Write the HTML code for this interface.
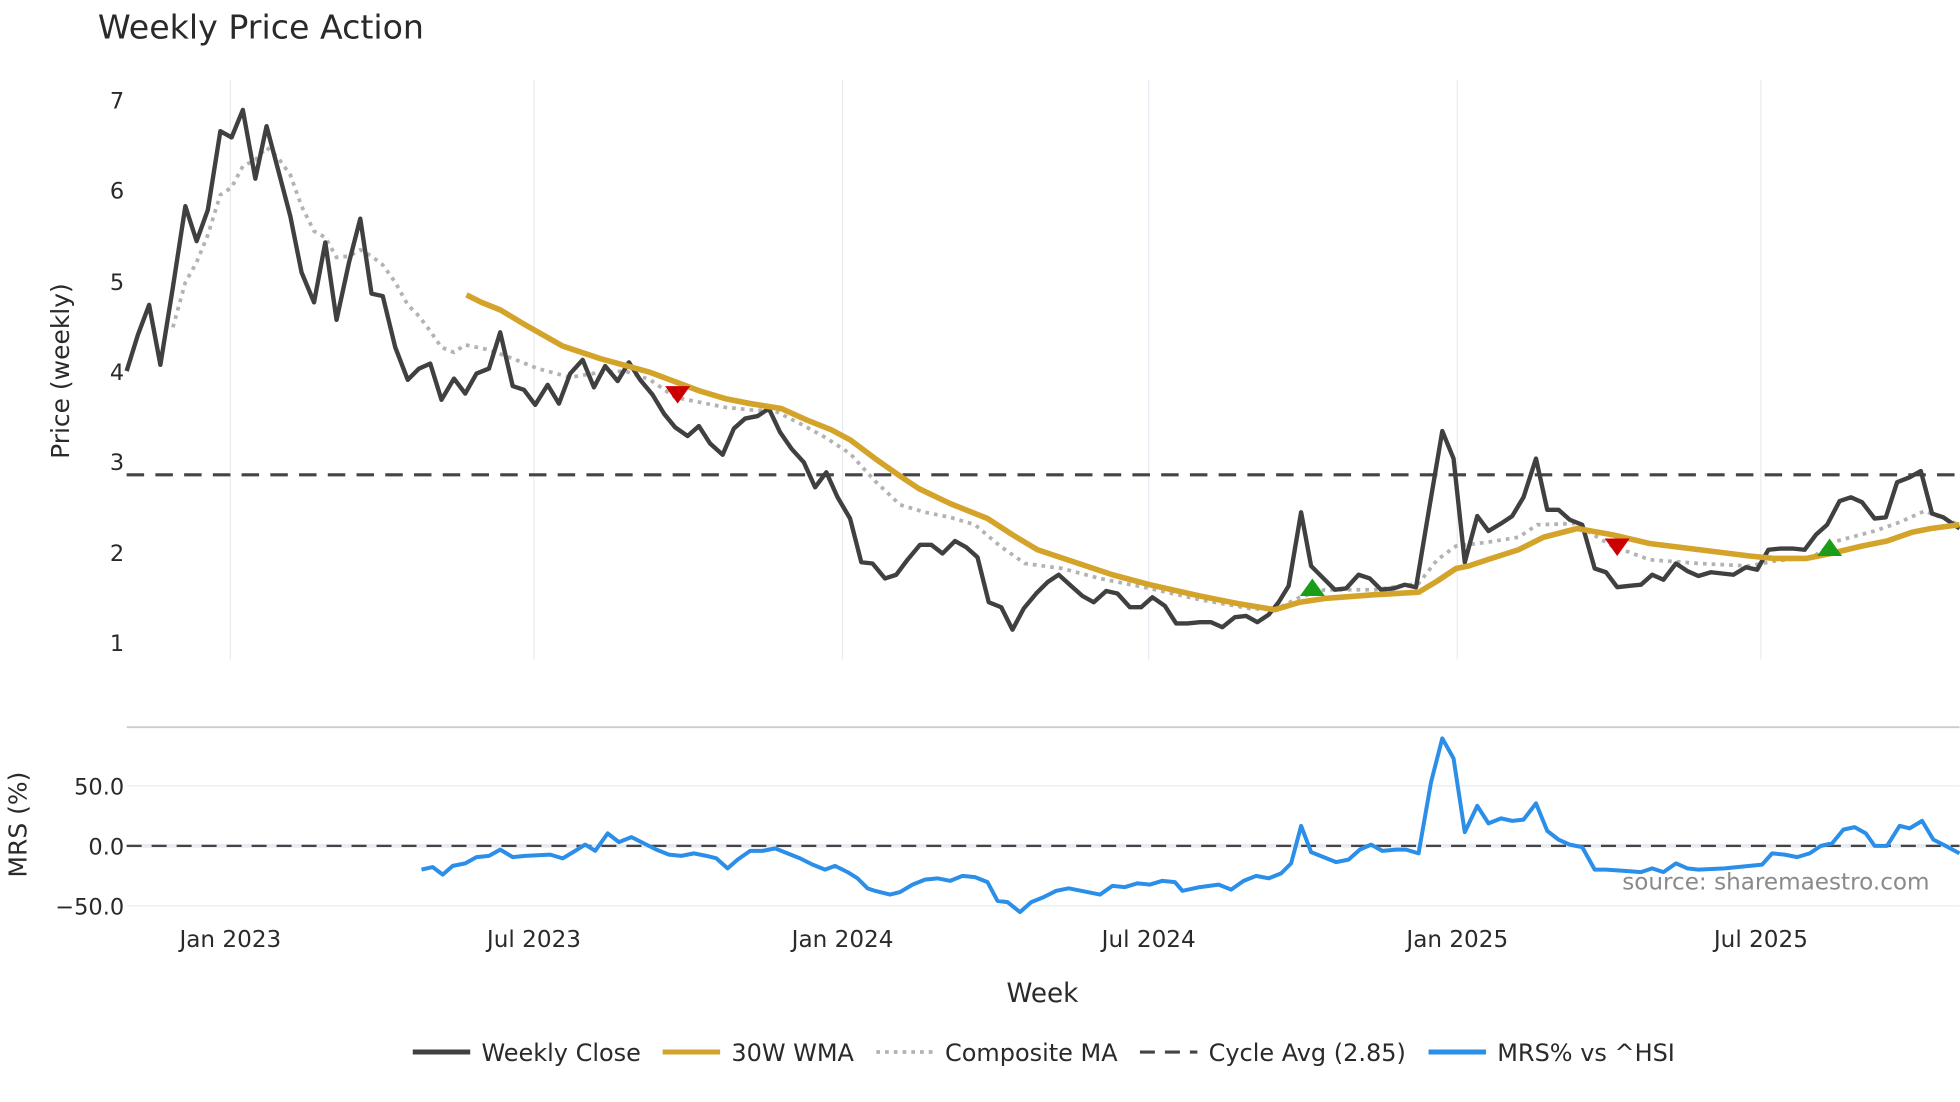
<!DOCTYPE html>
<html><head><meta charset="utf-8"><style>
html,body{margin:0;padding:0;background:#fff;}
svg{display:block;}
text{font-family:"DejaVu Sans","Liberation Sans",sans-serif;fill:#2a2a2a;}
</style></head><body>
<svg width="1960" height="1102" viewBox="0 0 1568 882" xmlns="http://www.w3.org/2000/svg">
<rect width="1568" height="882" fill="#fff"/>
<text x="78" y="31" font-size="26.6">Weekly Price Action</text>
<g stroke="#e8ecf2" stroke-width="1">
<line x1="184" y1="64" x2="184" y2="528"/><line x1="427" y1="64" x2="427" y2="528"/>
<line x1="674" y1="64" x2="674" y2="528"/><line x1="919" y1="64" x2="919" y2="528"/>
<line x1="1166" y1="64" x2="1166" y2="528"/><line x1="1409" y1="64" x2="1409" y2="528"/>
<line x1="101" y1="629" x2="1568" y2="629"/><line x1="101" y1="725" x2="1568" y2="725"/>
<line x1="101" y1="677" x2="1568" y2="677" stroke-width="3"/>
</g>
<line x1="101" y1="582" x2="1568" y2="582" stroke="#ccc" stroke-width="1.5"/>
<g font-size="18" text-anchor="end">
<text x="99" y="87">7</text><text x="99" y="159">6</text><text x="99" y="232">5</text>
<text x="99" y="304">4</text><text x="99" y="376">3</text><text x="99" y="449">2</text><text x="99" y="521">1</text>
<text x="99" y="636">50.0</text><text x="99" y="684">0.0</text><text x="99" y="732">−50.0</text>
</g>
<text transform="translate(55,297) rotate(-90)" font-size="20" text-anchor="middle">Price (weekly)</text>
<text transform="translate(21,660) rotate(-90)" font-size="20" text-anchor="middle">MRS (%)</text>
<g font-size="18.5" text-anchor="middle">
<text x="184" y="758">Jan 2023</text><text x="427" y="758">Jul 2023</text><text x="674" y="758">Jan 2024</text>
<text x="919" y="758">Jul 2024</text><text x="1166" y="758">Jan 2025</text><text x="1409" y="758">Jul 2025</text>
</g>
<text x="834" y="802" font-size="21" text-anchor="middle">Week</text>
<line x1="101" y1="380" x2="1568" y2="380" stroke="#444" stroke-width="2.5" stroke-dasharray="14,9"/>
<line x1="101" y1="677" x2="1568" y2="677" stroke="#444" stroke-width="1.8" stroke-dasharray="12,8"/>
<polyline fill="none" stroke="#b3b3b3" stroke-width="3" stroke-dasharray="3,4" points="138,262 148,226 157,210 166,188 176,156 185,150 194,133 204,128 213,118 222,126 232,140 241,165 251,185 260,190 269,206 279,205 288,200 297,205 306,212 316,226 326,244 335,253 344,265 353,278 363,282 372,276 391,280 410,287 430,295 456,302 480,298 500,297 520,304 540,318 560,322 580,326 600,328 620,329 640,339 660,350 680,363 700,385 720,404 740,410 760,414 780,420 800,437 820,451 850,455 880,463 920,471 960,480 1000,487 1020,488 1040,478 1060,472 1100,472 1135,467 1150,448 1165,437 1190,434 1215,430 1230,420 1260,419 1290,437 1320,448 1360,451 1400,453 1420,449 1450,446 1470,433 1500,425 1520,418 1540,409 1568,420"/>
<polyline fill="none" stroke="#404040" stroke-width="3.5" stroke-linejoin="round" points="101,297 110,268 119,244 128,292 138,230 148,165 157,193 166,168 176,105 185,110 194,88 204,143 213,101 222,135 232,173 241,218 251,242 260,194 269,256 279,210 288,175 297,235 306,237 316,278 326,304 335,295 344,291 353,320 363,303 372,315 381,299 391,295 400,266 410,309 419,312 428,324 438,308 447,323 456,299 466,288 475,310 484,293 494,305 503,290 512,304 522,316 531,331 540,342 550,349 559,341 568,355 578,364 587,343 596,335 606,333 615,327 624,346 633,359 643,370 652,390 661,378 670,398 680,415 689,450 698,451 708,463 717,460 726,448 736,436 745,436 754,443 764,433 773,438 782,446 791,482 801,486 810,504 819,487 829,475 838,466 847,460 857,469 866,477 875,482 885,473 894,475 904,486 913,486 922,478 932,485 941,499 950,499 960,498 969,498 978,502 988,494 997,493 1006,498 1015,492 1023,482 1031,469 1041,410 1049,453 1059,463 1068,472 1077,471 1087,460 1096,463 1105,472 1115,471 1124,468 1133,470 1143,410 1154,345 1163,367 1172,450 1182,413 1191,425 1201,419 1210,413 1219,398 1229,367 1238,408 1247,408 1256,416 1266,420 1276,455 1285,458 1294,470 1303,469 1313,468 1322,460 1331,464 1341,451 1350,457 1359,461 1369,458 1378,459 1387,460 1397,454 1406,456 1415,440 1425,439 1434,439 1444,440 1453,428 1462,420 1472,401 1481,398 1490,402 1500,415 1509,414 1518,386 1528,382 1537,377 1546,411 1555,414 1568,423"/>
<polyline fill="none" stroke="#d4a32a" stroke-width="4.5" stroke-linejoin="round" points="373,236 385,242 400,248 420,260 450,277 480,287 520,298 560,313 580,319 600,323 625,327 645,336 665,344 680,352 700,367 720,381 735,391 760,403 790,415 810,428 830,440 860,450 890,460 920,468 960,477 990,483 1020,488 1040,482 1060,479 1100,476 1135,474 1150,465 1165,455 1175,453 1190,448 1215,440 1235,430 1262,423 1290,428 1320,435 1360,440 1400,445 1420,447 1445,447 1465,443 1490,437 1510,433 1530,426 1545,423 1568,420"/>
<g fill="#cc0000"><polygon points="532,309 552,309 542,323"/><polygon points="1284,431 1304,431 1294,445"/></g>
<g fill="#1a9e1a"><polygon points="1040,477 1060,477 1050,463"/><polygon points="1454,445 1474,445 1464,431"/></g>
<polyline fill="none" stroke="#2b8ee8" stroke-width="3.2" stroke-linejoin="round" points="337,696 346,694 354,700 362,693 372,691 381,686 391,685 400,680 410,686 420,685 440,684 450,687 460,681 468,676 476,681 486,667 495,674 505,670 515,675 525,680 535,684 545,685 555,683 565,685 573,687 582,695 590,688 600,681 610,681 620,679 630,683 640,687 650,692 660,696 668,693 678,698 686,703 694,711 700,713 712,716 720,714 730,708 740,704 750,703 760,705 770,701 780,702 790,706 798,721 806,722 816,730 825,722 835,718 845,713 855,711 870,714 880,716 890,709 900,710 910,707 920,708 930,705 940,706 946,713 960,710 975,708 985,712 995,705 1005,701 1015,703 1025,699 1033,691 1041,661 1049,682 1059,686 1069,690 1079,688 1088,680 1097,676 1106,681 1117,680 1125,680 1135,683 1145,626 1154,591 1163,607 1172,666 1182,645 1191,659 1201,655 1210,657 1219,656 1229,643 1238,665 1247,672 1256,676 1266,678 1276,696 1285,696 1300,697 1313,698 1322,695 1331,698 1341,691 1350,695 1359,696 1380,695 1400,693 1410,692 1418,683 1428,684 1438,686 1448,683 1457,677 1466,675 1475,664 1484,662 1493,667 1500,677 1510,677 1520,661 1528,663 1538,657 1547,672 1555,676 1568,683"/>
<text x="1544" y="712" font-size="18.5" text-anchor="end" style="fill:#8a8a8a">source: sharemaestro.com</text>
<g font-size="19.2">
<line x1="330" y1="842" x2="376" y2="842" stroke="#404040" stroke-width="4"/><text x="385" y="849">Weekly Close</text>
<line x1="530" y1="842" x2="576" y2="842" stroke="#d4a32a" stroke-width="4"/><text x="585" y="849">30W WMA</text>
<line x1="701" y1="842" x2="747" y2="842" stroke="#b3b3b3" stroke-width="3" stroke-dasharray="3,4"/><text x="756" y="849">Composite MA</text>
<line x1="912" y1="842" x2="958" y2="842" stroke="#444" stroke-width="2.5" stroke-dasharray="12,8"/><text x="967" y="849">Cycle Avg (2.85)</text>
<line x1="1143" y1="842" x2="1189" y2="842" stroke="#2b8ee8" stroke-width="4"/><text x="1198" y="849">MRS% vs ^HSI</text>
</g>
</svg>
</body></html>
